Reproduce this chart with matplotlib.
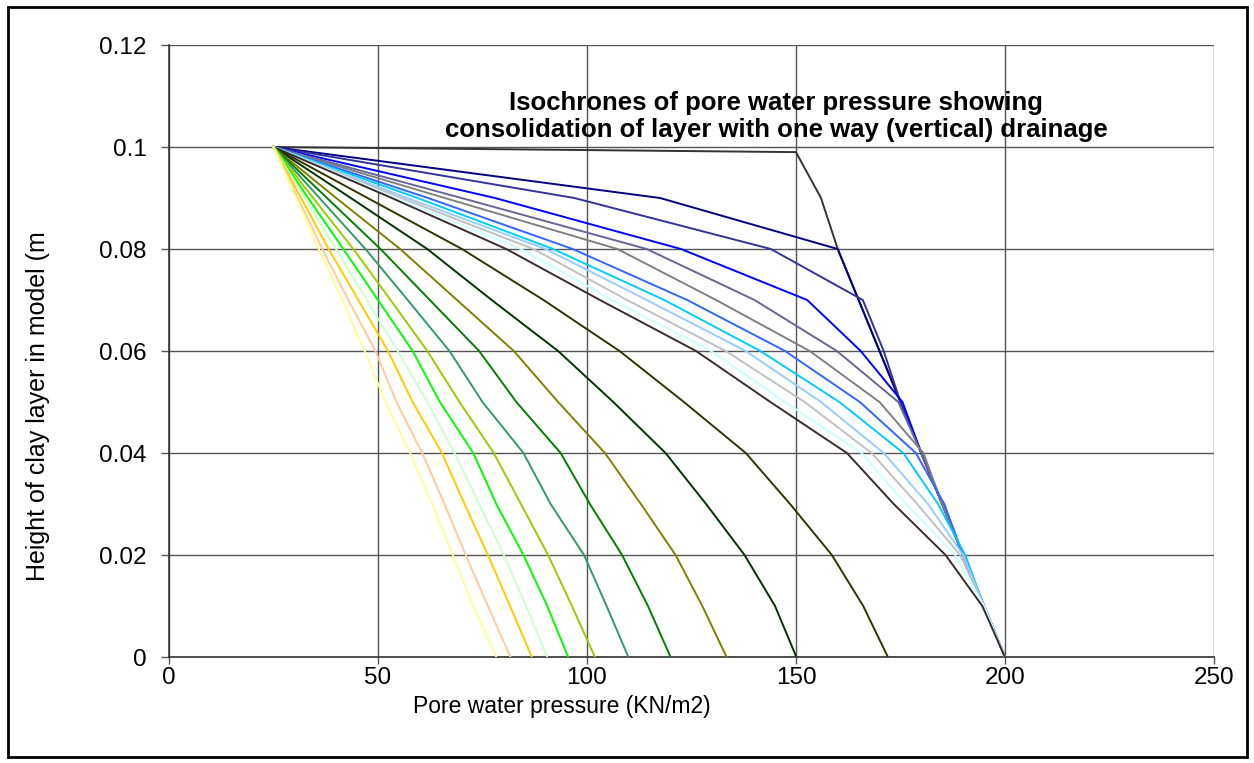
import numpy as np
import matplotlib.pyplot as plt
from matplotlib.patches import Rectangle
from matplotlib.ticker import FormatStrFormatter

plt.rcParams['font.family'] = ['Liberation Sans', 'DejaVu Sans']

# heights of the nodes in the clay layer (m)
heights = [0, 0.01, 0.02, 0.03, 0.04, 0.05, 0.06, 0.07, 0.08, 0.09, 0.1]
heights_t0 = [0, 0.01, 0.02, 0.03, 0.04, 0.05, 0.06, 0.07, 0.08, 0.09, 0.099, 0.1]

# pore water pressure at each height, one list per isochrone
u_t0 = [200, 195, 190, 185, 180, 175, 170, 165, 160, 156, 150, 25]
u_navy = [200, 195, 190, 185, 180, 175, 170, 165, 160, 117.5, 25]
u_indigo = [200, 195, 190, 185, 180, 175, 171, 166, 144, 97, 25]
u_blue = [200, 195, 190, 185, 180, 175.5, 165.5, 152.7, 122.5, 78, 25]
u_slate = [200, 195, 190, 185, 180, 174.5, 159.8, 140.1, 114.3, 70, 25]
u_gray = [200, 195, 190, 185, 180.5, 170, 153.3, 130.9, 107.3, 66, 25]
u_royal = [200, 195, 190, 185.5, 178.7, 165.3, 147.4, 124, 96.6, 62, 25]
u_sky = [200, 195, 190.5, 184, 175.7, 160.4, 141.5, 118.5, 91.9, 59.5, 25]
u_paleblue = [200, 195, 190, 181.6, 171, 156, 138, 114.3, 90.1, 57, 25]
u_silver = [200, 195, 189.3, 179, 168.1, 152.1, 133.2, 109.6, 87.2, 55.6, 25]
u_lightcyan = [200, 195, 188.1, 176.3, 165.7, 147.4, 129.7, 106.1, 84.2, 54.3, 25]
u_darkbrown = [200, 194.6, 185.8, 173.4, 162.2, 143.9, 126.1, 103.1, 80.7, 53.3, 25]
u_darkolive = [172, 166.1, 158.6, 148.6, 138, 123.2, 107.8, 89.6, 70.1, 47.5, 25]
u_darkgreen = [150.1, 145, 137.7, 128.5, 118.8, 106.3, 93.1, 77.2, 61.8, 43.5, 25]
u_olive = [133.4, 127.6, 121.2, 112.9, 104.3, 93.1, 82.5, 68.9, 55.3, 40, 25]
u_green = [120, 114.6, 108.4, 100.7, 93.7, 83.1, 74.2, 62.4, 50.6, 37.8, 25]
u_seagreen = [109.9, 104.7, 99.3, 91.3, 84.8, 75, 67.1, 57.1, 47, 36, 25]
u_yellowgreen = [101.9, 96.4, 90.7, 84.2, 77.7, 69.5, 61.8, 53, 44.1, 34.5, 25]
u_lime = [95.5, 90.5, 84.8, 78.3, 72.8, 64.8, 58.3, 50, 41.7, 33.3, 25]
u_palegreen = [90.5, 85.4, 80.1, 74.2, 68.3, 61.8, 54.7, 47.3, 40, 32.5, 25]
u_gold = [86.8, 81.6, 76.3, 70.7, 65.3, 58.3, 52.4, 45.3, 38.2, 31.6, 25]
u_peach = [81.7, 76.3, 71, 65.9, 60.6, 54.4, 49.4, 42.9, 36.7, 30.8, 25]
u_lightyellow = [78.3, 72.8, 67.9, 63, 57.7, 51.8, 46.8, 41.5, 35.8, 30.4, 25]

isochrones = [
    (u_navy, '#000080'), (u_indigo, '#333399'), (u_blue, '#0000FF'),
    (u_slate, '#666699'), (u_gray, '#808080'), (u_royal, '#3366FF'),
    (u_sky, '#00CCFF'), (u_paleblue, '#99CCFF'), (u_silver, '#C0C0C0'),
    (u_lightcyan, '#CCFFFF'), (u_darkbrown, '#3a2c2e'), (u_darkolive, '#333300'),
    (u_darkgreen, '#003300'), (u_olive, '#808000'), (u_green, '#008000'),
    (u_seagreen, '#339966'), (u_yellowgreen, '#99CC00'), (u_lime, '#00FF00'),
    (u_palegreen, '#CCFFCC'), (u_gold, '#FFCC00'), (u_peach, '#FFCC99'),
    (u_lightyellow, '#FFFF99'),
]

fig = plt.figure(figsize=(12.54, 7.63), dpi=100)
ax = fig.add_axes([0.1348, 0.1389, 0.968 - 0.1348, 0.941 - 0.1389])

# chart border
fig.patches.append(Rectangle((8 / 1254, 6 / 763), 1239 / 1254, 750 / 763,
                             transform=fig.transFigure, fill=False,
                             edgecolor='black', lw=2))

ax.plot(u_t0, heights_t0, color='#333333', lw=1.4, zorder=3)
for u, c in isochrones:
    ax.plot(u, heights, color=c, lw=1.4, zorder=3)

ax.set_xlim(0, 250)
ax.set_ylim(0, 0.12)
ax.set_xticks([0, 50, 100, 150, 200, 250])
ax.set_yticks([0, 0.02, 0.04, 0.06, 0.08, 0.1, 0.12])
ax.yaxis.set_major_formatter(FormatStrFormatter('%g'))
ax.grid(True, color='#555555', lw=1, zorder=1)
ax.set_axisbelow(True)
for s in ['top', 'right']:
    ax.spines[s].set_visible(False)
for s in ['left', 'bottom']:
    ax.spines[s].set_color('#333333')
    ax.spines[s].set_linewidth(1.2)
ax.tick_params(axis='x', labelsize=17.5, length=5, width=1, color='#555555', pad=2)
ax.tick_params(axis='y', labelsize=17.5, length=6, width=1, color='#555555', pad=10)

ax.set_xlabel('Pore water pressure (KN/m2)', fontsize=16.5)
ax.xaxis.set_label_coords((562 - 169) / 1045, (657 - 706) / 612)
ax.xaxis.label.set_va('center')
ax.set_ylabel('Height of clay layer in model (m', fontsize=18)
ax.yaxis.set_label_coords((38 - 169) / 1045, (657 - 406) / 612)
ax.yaxis.label.set_va('center')

fig.text(776 / 1254, 1 - 103 / 763, 'Isochrones of pore water pressure showing',
         ha='center', va='center', fontsize=18.5, fontweight='bold')
fig.text(776 / 1254, 1 - 130 / 763, 'consolidation of layer with one way (vertical) drainage',
         ha='center', va='center', fontsize=18.5, fontweight='bold')

fig.savefig('out.png', dpi=100)
